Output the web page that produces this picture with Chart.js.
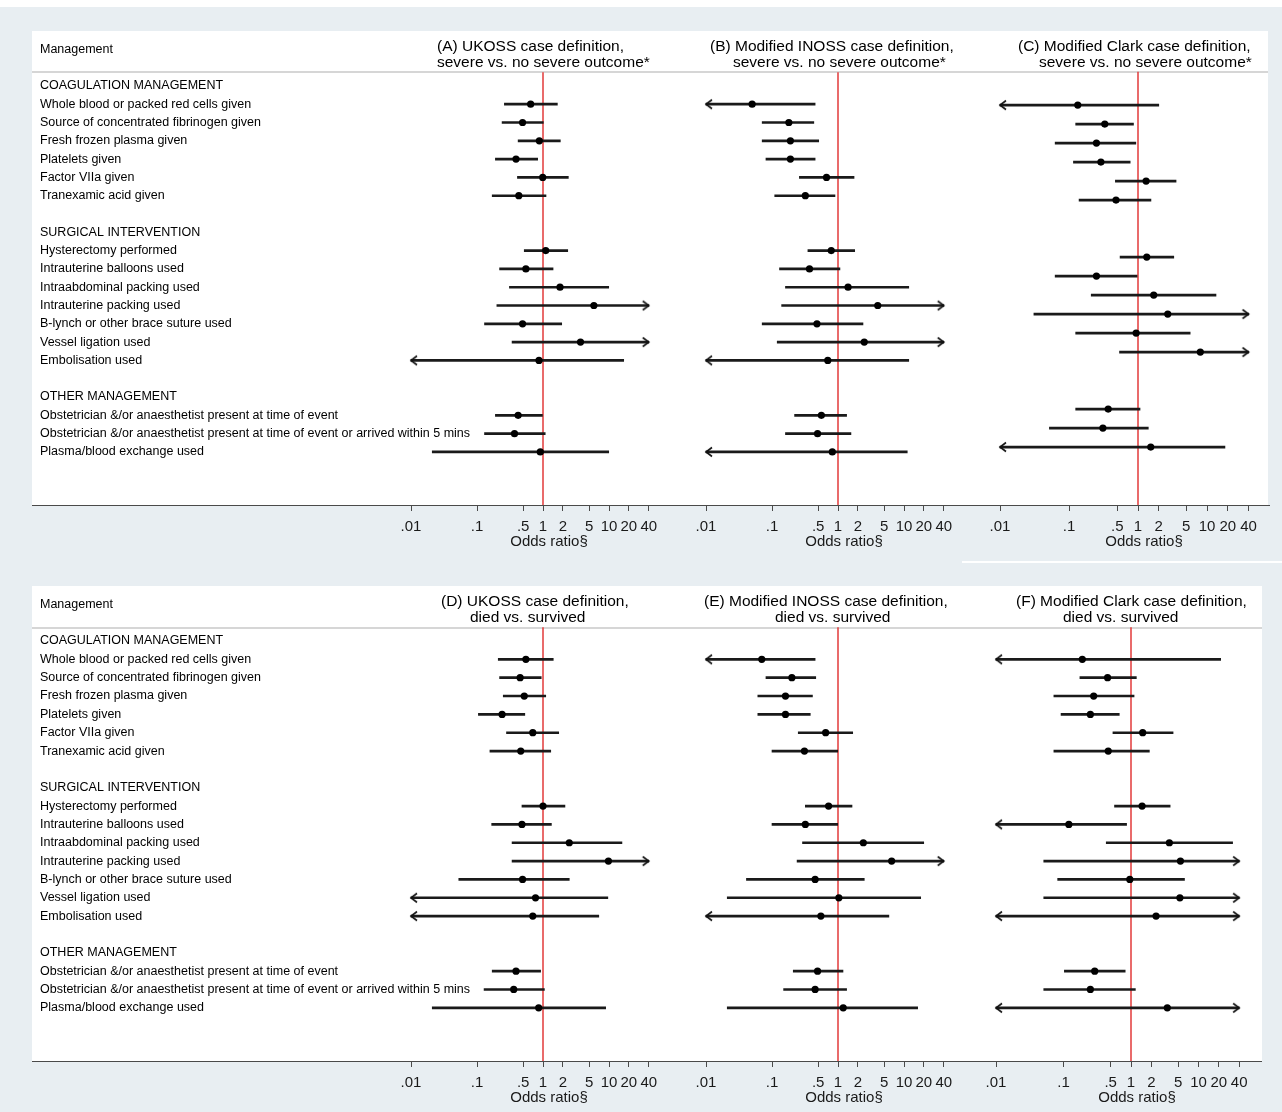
<!DOCTYPE html>
<html>
<head>
<meta charset="utf-8">
<script src="https://cdn.jsdelivr.net/npm/chart.js@4.4.1/dist/chart.umd.min.js"></script>
<style>
  html, body { margin: 0; padding: 0; background: #fff; }
  #stage { position: relative; width: 1282px; height: 1112px; overflow: hidden; background: #e8eef2; }
  .box, .rule { position: absolute; }
  .box { background: #fff; }
  canvas { position: absolute; }
</style>
</head>
<body>
<div id="stage">
  <div class="rule" style="left:0;top:0;width:1282px;height:7px;background:#fff"></div>
  <div class="rule" style="left:962px;top:561px;width:320px;height:2px;background:#fff"></div>
  <div class="box" style="left:32px;top:31px;width:1236px;height:474px"></div>
  <div class="box" style="left:32px;top:586px;width:1230px;height:475px"></div>
  <div class="rule" style="left:32px;top:71px;width:1236px;height:2px;background:#d6d6d6"></div>
  <div class="rule" style="left:32px;top:627px;width:1230px;height:2px;background:#d6d6d6"></div>
  <div class="rule" style="left:32px;top:505px;width:1238px;height:1px;background:#4a4a4a"></div>
  <div class="rule" style="left:32px;top:1061px;width:1230px;height:1px;background:#4a4a4a"></div>
</div>
<script>
// management items, in plot order
const items = [
  'Whole blood or packed red cells given',
  'Source of concentrated fibrinogen given',
  'Fresh frozen plasma given',
  'Platelets given',
  'Factor VIIa given',
  'Tranexamic acid given',
  'Hysterectomy performed',
  'Intrauterine balloons used',
  'Intraabdominal packing used',
  'Intrauterine packing used',
  'B-lynch or other brace suture used',
  'Vessel ligation used',
  'Embolisation used',
  'Obstetrician &/or anaesthetist present at time of event',
  'Obstetrician &/or anaesthetist present at time of event or arrived within 5 mins',
  'Plasma/blood exchange used'
];
const groups = [
  { label: 'COAGULATION MANAGEMENT', items: [0, 1, 2, 3, 4, 5] },
  { label: 'SURGICAL INTERVENTION', items: [6, 7, 8, 9, 10, 11, 12] },
  { label: 'OTHER MANAGEMENT', items: [13, 14, 15] }
];
const headLabel = 'Management';
const tickValues = [0.01, 0.1, 0.5, 1, 2, 5, 10, 20, 40];
const tickLabels = ['.01', '.1', '.5', '1', '2', '5', '10', '20', '40'];
const axisTitle = 'Odds ratio§';

// OFF = confidence limit beyond the axis (drawn as an arrow)
const OFF = null;

// (A) UKOSS, severe vs. no severe outcome
const ukossSevereOr = [0.65, 0.49, 0.88, 0.39, 0.99, 0.43, 1.10, 0.55, 1.81, 5.9, 0.49, 3.7, 0.87, 0.42, 0.37, 0.91];
const ukossSevereLo = [0.26, 0.24, 0.42, 0.19, 0.41, 0.17, 0.52, 0.22, 0.31, 0.20, 0.13, 0.34, OFF, 0.19, 0.13, 0.021];
const ukossSevereHi = [1.65, 1.01, 1.83, 0.83, 2.42, 1.11, 2.37, 1.42, 9.9, OFF, 1.92, OFF, 16.7, 0.98, 1.08, 9.9];

// (B) Modified INOSS, severe vs. no severe outcome
const inossSevereOr = [0.050, 0.18, 0.19, 0.19, 0.67, 0.32, 0.79, 0.37, 1.42, 4.0, 0.48, 2.5, 0.70, 0.56, 0.49, 0.82];
const inossSevereLo = [OFF, 0.071, 0.071, 0.081, 0.26, 0.11, 0.35, 0.13, 0.16, 0.14, 0.071, 0.12, OFF, 0.22, 0.16, OFF];
const inossSevereHi = [0.45, 0.43, 0.51, 0.45, 1.75, 0.90, 1.79, 1.07, 11.8, OFF, 2.39, OFF, 11.8, 1.35, 1.57, 11.2];

// (C) Modified Clark, severe vs. no severe outcome (no estimate for embolisation)
const clarkSevereOr = [0.134, 0.33, 0.25, 0.29, 1.31, 0.48, 1.34, 0.25, 1.69, 2.7, 0.94, 8.0, null, 0.37, 0.31, 1.53];
const clarkSevereLo = [OFF, 0.125, 0.063, 0.116, 0.47, 0.14, 0.55, 0.063, 0.21, 0.031, 0.125, 0.54, null, 0.125, 0.052, OFF];
const clarkSevereHi = [2.0, 0.86, 0.93, 0.77, 3.56, 1.54, 3.3, 0.97, 13.5, OFF, 5.7, OFF, null, 1.07, 1.41, 18.2];

// (D) UKOSS, died vs. survived
const ukossDiedOr = [0.55, 0.45, 0.52, 0.24, 0.70, 0.46, 1.0, 0.48, 2.5, 9.8, 0.49, 0.77, 0.70, 0.39, 0.36, 0.86];
const ukossDiedLo = [0.21, 0.22, 0.25, 0.105, 0.28, 0.157, 0.48, 0.167, 0.34, 0.34, 0.053, OFF, OFF, 0.17, 0.128, 0.021];
const ukossDiedHi = [1.43, 0.94, 1.10, 0.53, 1.73, 1.31, 2.15, 1.34, 15.7, OFF, 2.5, 9.6, 7.0, 0.92, 1.05, 8.9];

// (E) Modified INOSS, died vs. survived
const inossDiedOr = [0.070, 0.20, 0.16, 0.16, 0.65, 0.31, 0.72, 0.32, 2.42, 6.5, 0.45, 1.03, 0.55, 0.49, 0.45, 1.2];
const inossDiedLo = [OFF, 0.081, 0.061, 0.061, 0.25, 0.10, 0.32, 0.10, 0.29, 0.24, 0.041, 0.021, OFF, 0.21, 0.15, 0.021];
const inossDiedHi = [0.45, 0.46, 0.41, 0.38, 1.67, 0.99, 1.63, 0.99, 19.9, OFF, 2.5, 17.9, 5.9, 1.19, 1.35, 16.1];

// (F) Modified Clark, died vs. survived
const clarkDiedOr = [0.19, 0.45, 0.28, 0.25, 1.49, 0.46, 1.46, 0.12, 3.7, 5.4, 0.96, 5.3, 2.35, 0.29, 0.25, 3.45];
const clarkDiedLo = [OFF, 0.175, 0.072, 0.092, 0.54, 0.072, 0.57, OFF, 0.43, 0.051, 0.082, 0.051, OFF, 0.103, 0.051, OFF];
const clarkDiedHi = [21.3, 1.2, 1.11, 0.67, 4.2, 1.87, 3.8, 0.86, 32, OFF, 6.2, OFF, OFF, 0.82, 1.16, OFF];

const titleA = ['(A) UKOSS case definition,', 'severe vs. no severe outcome*'];
const titleB = ['(B) Modified INOSS case definition,', 'severe vs. no severe outcome*'];
const titleC = ['(C) Modified Clark case definition,', 'severe vs. no severe outcome*'];
const titleD = ['(D) UKOSS case definition,', 'died vs. survived'];
const titleE = ['(E) Modified INOSS case definition,', 'died vs. survived'];
const titleF = ['(F) Modified Clark case definition,', 'died vs. survived'];

const FONT = '"Liberation Sans", Arial, Helvetica, sans-serif';
const AXIS_MIN = tickValues[0];
const AXIS_MAX = tickValues[tickValues.length - 1];

// where each panel sits on the page (pixel of OR=1, pixels per decade)
const panels = [
  { or: ukossSevereOr, lo: ukossSevereLo, hi: ukossSevereHi, title: titleA, top: 31, height: 474,
    one: 543, decade: 66, left: 32, right: 686, yMin: 0, yMax: 25.9, labels: true, titleX: [437, 437], titleY: [47, 63] },
  { or: inossSevereOr, lo: inossSevereLo, hi: inossSevereHi, title: titleB, top: 31, height: 474,
    one: 838, decade: 66, left: 686, right: 990, yMin: 0, yMax: 25.9, titleX: [710, 733], titleY: [47, 63] },
  { or: clarkSevereOr, lo: clarkSevereLo, hi: clarkSevereHi, title: titleC, top: 31, height: 474,
    one: 1138, decade: 69, left: 990, right: 1270, yMin: 0.1, yMax: 25.05, titleX: [1018, 1039], titleY: [47, 63] },
  { or: ukossDiedOr, lo: ukossDiedLo, hi: ukossDiedHi, title: titleD, top: 586, height: 475,
    one: 543, decade: 66, left: 32, right: 686, yMin: 0, yMax: 25.9, labels: true, titleX: [441, 470], titleY: [602, 618] },
  { or: inossDiedOr, lo: inossDiedLo, hi: inossDiedHi, title: titleE, top: 586, height: 475,
    one: 838, decade: 66, left: 686, right: 990, yMin: 0, yMax: 25.9, titleX: [704, 775], titleY: [602, 618] },
  { or: clarkDiedOr, lo: clarkDiedLo, hi: clarkDiedHi, title: titleF, top: 586, height: 475,
    one: 1131, decade: 67.5, left: 985, right: 1262, yMin: 0, yMax: 25.9, titleX: [1016, 1063], titleY: [602, 618] }
];

function slotPositions(or) {
  const pos = {};
  const heads = [];
  let p = 3;
  groups.forEach(g => {
    heads.push([p, g.label]);
    p++;
    g.items.forEach(i => {
      if (or[i] != null) { pos[i] = p; p++; }
    });
    p++;
  });
  return { pos, heads };
}

function makeArrow(dir) {
  const c = document.createElement('canvas');
  c.width = 20; c.height = 20;
  const g = c.getContext('2d');
  g.strokeStyle = '#111';
  g.lineWidth = 1.6;
  g.beginPath();
  g.moveTo(10 + 6 * dir, 5.5);
  g.lineTo(10, 10);
  g.lineTo(10 + 6 * dir, 14.5);
  g.stroke();
  return c;
}
const arrowLeft = makeArrow(1);
const arrowRight = makeArrow(-1);

const headerText = {
  id: 'headerText',
  afterDraw(chart, args, o) {
    const ctx = chart.ctx;
    ctx.save();
    ctx.fillStyle = '#000';
    ctx.textBaseline = 'middle';
    ctx.textAlign = 'left';
    ctx.font = '15.5px ' + FONT;
    o.title.forEach((t, k) => ctx.fillText(t, o.titleX[k] - o.left, o.titleY[k] - o.top));
    ctx.textAlign = 'center';
    ctx.font = '15px ' + FONT;
    ctx.fillStyle = '#1a1a1a';
    ctx.fillText(axisTitle, chart.scales.x.getPixelForValue(1) + 6, chart.chartArea.bottom + 37);
    ctx.restore();
  }
};

const stage = document.getElementById('stage');

panels.forEach(p => {
  const { pos, heads } = slotPositions(p.or);
  const labelAt = {};
  if (p.labels) {
    labelAt[1] = headLabel;
    heads.forEach(h => { labelAt[h[0]] = h[1]; });
    Object.keys(pos).forEach(i => { labelAt[pos[i]] = items[i]; });
  }

  const bars = [], dots = [], leftArrows = [], rightArrows = [];
  p.or.forEach((v, i) => {
    if (v == null) return;
    const y = pos[i];
    const lo = p.lo[i], hi = p.hi[i];
    bars.push({ x: [lo == null ? AXIS_MIN : lo, hi == null ? AXIS_MAX : hi], y: y });
    dots.push({ x: v, y: y });
    if (lo == null) leftArrows.push({ x: AXIS_MIN, y: y });
    if (hi == null) rightArrows.push({ x: AXIS_MAX, y: y });
  });

  const padL = p.labels ? 0 : 24;
  const cLeft = p.left - padL;
  const canvas = document.createElement('canvas');
  canvas.width = p.right + 24 - cLeft;
  canvas.height = p.height + 50;
  canvas.style.left = cLeft + 'px';
  canvas.style.top = p.top + 'px';
  stage.appendChild(canvas);

  new Chart(canvas, {
    type: 'bar',
    data: {
      datasets: [
        { type: 'scatter', data: dots, pointRadius: 3.6, pointBackgroundColor: '#000', pointBorderWidth: 0, order: 0 },
        { type: 'scatter', data: leftArrows, pointStyle: arrowLeft, pointRadius: 6, order: 1 },
        { type: 'scatter', data: rightArrows, pointStyle: arrowRight, pointRadius: 6, order: 2 },
        { type: 'bar', indexAxis: 'y', data: bars, backgroundColor: '#1a1a1a', barThickness: 2, borderWidth: 0, grouped: false, order: 3 },
        { type: 'line', data: [{ x: 1, y: 2.25 }, { x: 1, y: p.yMax }], borderColor: '#e23b3b', borderWidth: 1.5, pointRadius: 0, order: 4 }
      ]
    },
    options: {
      responsive: false,
      animation: false,
      events: [],
      devicePixelRatio: 1,
      layout: { autoPadding: false, padding: { left: padL, right: 24, top: 0, bottom: 0 } },
      plugins: {
        legend: { display: false },
        tooltip: { enabled: false },
        headerText: { title: p.title, titleX: p.titleX, titleY: p.titleY, left: cLeft, top: p.top }
      },
      scales: {
        x: {
          type: 'logarithmic',
          position: 'bottom',
          offset: false,
          min: Math.pow(10, (p.left - p.one) / p.decade),
          max: Math.pow(10, (p.right - p.one) / p.decade),
          afterBuildTicks: s => { s.ticks = tickValues.map(v => ({ value: v })); },
          afterFit: s => { s.height = 50; s.paddingLeft = 0; s.paddingRight = 0; },
          grid: { display: true, offset: false, drawOnChartArea: false, drawTicks: true, tickLength: 6, color: '#4a4a4a', lineWidth: 1 },
          border: { display: false },
          ticks: {
            autoSkip: false, maxRotation: 0, minRotation: 0, padding: 7, color: '#1a1a1a',
            font: { family: FONT, size: 15 },
            callback: v => tickLabels[tickValues.indexOf(v)]
          }
        },
        y: {
          type: 'linear',
          reverse: true,
          offset: false,
          min: p.yMin,
          max: p.yMax,
          display: !!p.labels,
          afterBuildTicks: s => { s.ticks = Object.keys(labelAt).map(k => ({ value: +k })); },
          afterFit: s => { s.width = 0; s.paddingTop = 0; s.paddingBottom = 0; },
          grid: { display: false, offset: false, drawTicks: false },
          border: { display: false },
          ticks: {
            mirror: true, padding: 8, autoSkip: false, color: '#000',
            font: { family: FONT, size: 12.5 },
            callback: v => labelAt[v] || ''
          }
        }
      }
    },
    plugins: [headerText]
  });
});
</script>
</body>
</html>
